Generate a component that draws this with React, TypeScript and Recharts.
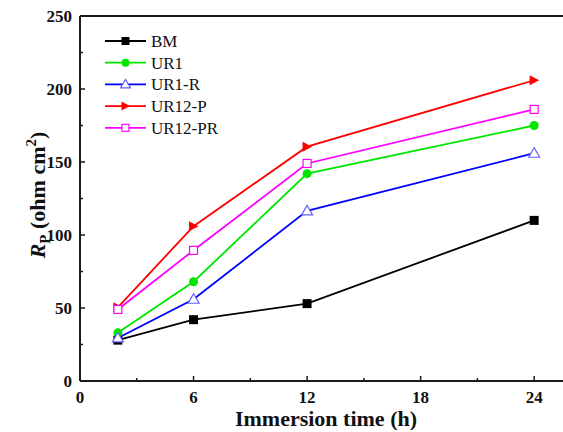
import { LineChart, Line, XAxis, YAxis, ReferenceLine } from "recharts";

// immersion times (h) and polarization resistance (ohm cm2)
const hours = [2, 6, 12, 24];
const bm = [28, 42, 53, 110];
const ur1 = [33, 68, 142, 175];
const ur1r = [29.5, 56, 116.5, 156];
const ur12p = [50.5, 106, 160.5, 206];
const ur12pr = [49, 89.5, 149, 186];

const xTicks = [0, 3, 6, 9, 12, 15, 18, 21, 24];
const yTicks = [0, 25, 50, 75, 100, 125, 150, 175, 200, 225, 250];

const FONT = "'Liberation Serif', 'Times New Roman', 'DejaVu Serif', serif";
const AXIS = "#1a1a1a";
const serifText = { fontFamily: FONT };

type Shape = "square" | "circle" | "triangle" | "right" | "openSquare";

const series: { name: string; values: number[]; color: string; shape: Shape }[] = [
  { name: "BM", values: bm, color: "#000000", shape: "square" },
  { name: "UR1", values: ur1, color: "#00e600", shape: "circle" },
  { name: "UR1-R", values: ur1r, color: "#0000ff", shape: "triangle" },
  { name: "UR12-P", values: ur12p, color: "#ff0000", shape: "right" },
  { name: "UR12-PR", values: ur12pr, color: "#ff00ff", shape: "openSquare" },
];

const data = hours.map((h, i) => {
  const row: Record<string, number> = { h };
  series.forEach((s) => (row[s.name] = s.values[i]));
  return row;
});

function Marker({ shape, cx, cy, color, size }: { shape: Shape; cx: number; cy: number; color: string; size: number }) {
  const r = size / 2;
  switch (shape) {
    case "square":
      return <rect x={cx - r} y={cy - r} width={size} height={size} fill={color} />;
    case "circle":
      return <circle cx={cx} cy={cy} r={r} fill={color} />;
    case "triangle":
      return (
        <polygon
          points={`${cx},${cy - r - 1} ${cx - r - 1},${cy + r - 0.5} ${cx + r + 1},${cy + r - 0.5}`}
          fill="#fff"
          stroke="#6262ff"
          strokeWidth={1.2}
        />
      );
    case "right":
      return <polygon points={`${cx - r},${cy - r - 0.5} ${cx + r + 0.5},${cy} ${cx - r},${cy + r + 0.5}`} fill={color} />;
    default:
      return <rect x={cx - r + 0.5} y={cy - r + 0.5} width={size - 1} height={size - 1} fill="#fff" stroke={color} strokeWidth={1.2} />;
  }
}

function XTick({ x, y, payload }: any) {
  const major = payload.value % 6 === 0;
  return (
    <g>
      <line x1={x} x2={x} y1={y} y2={y - (major ? 5 : 3)} stroke={AXIS} strokeWidth={1.5} />
      {major && (
        <text x={x} y={y + 22} textAnchor="middle" style={serifText} fontWeight="bold" fontSize={17} fill="#111">
          {payload.value}
        </text>
      )}
    </g>
  );
}

function YTick({ x, y, payload }: any) {
  const major = payload.value % 50 === 0;
  return (
    <g>
      <line x1={x} x2={x + (major ? 5 : 3)} y1={y} y2={y} stroke={AXIS} strokeWidth={1.5} />
      {major && (
        <text x={x - 8} y={y + 6} textAnchor="end" style={serifText} fontWeight="bold" fontSize={17} fill="#111">
          {payload.value}
        </text>
      )}
    </g>
  );
}

export default function App() {
  return (
    <div style={{ position: "absolute", left: 0, top: 0, width: 563, height: 432, overflow: "hidden", background: "#fff", fontFamily: FONT }}>
      <LineChart width={580} height={432} data={data} margin={{ top: 16, right: 8, bottom: 0, left: 0 }}>
        <XAxis
          dataKey="h"
          type="number"
          domain={[0, 26]}
          ticks={xTicks}
          interval={0}
          tickLine={false}
          tickSize={0}
          tickMargin={0}
          tick={(p: any) => <XTick {...p} />}
          axisLine={{ stroke: AXIS, strokeWidth: 2 }}
          height={51}
          allowDataOverflow
        />
        <YAxis
          type="number"
          domain={[0, 250]}
          ticks={yTicks}
          interval={0}
          tickLine={false}
          tickSize={0}
          tickMargin={0}
          tick={(p: any) => <YTick {...p} />}
          axisLine={{ stroke: AXIS, strokeWidth: 2 }}
          width={80}
        />
        <ReferenceLine y={250} stroke={AXIS} strokeWidth={2} />
        {series.map((s) => (
          <Line
            key={s.name}
            dataKey={s.name}
            stroke={s.color}
            strokeWidth={1.8}
            isAnimationActive={false}
            dot={(p: any) => (
              <Marker key={`${s.name}-${p.index}`} shape={s.shape} cx={p.cx} cy={p.cy} color={s.color} size={9} />
            )}
            activeDot={false}
          />
        ))}
      </LineChart>
      <svg width={563} height={432} style={{ position: "absolute", left: 0, top: 0, pointerEvents: "none" }}>
        {series.map((s, i) => {
          const y = 41 + i * 21.7;
          return (
            <g key={s.name}>
              <line x1={105} x2={146} y1={y} y2={y} stroke={s.color} strokeWidth={1.8} />
              <Marker shape={s.shape} cx={125.5} cy={y} color={s.color} size={8} />
              <text x={151} y={y + 6} style={serifText} fontSize={17} fill="#111">
                {s.name}
              </text>
            </g>
          );
        })}
        <text x={326} y={426} textAnchor="middle" style={serifText} fontWeight="bold" fontSize={22} fill="#111">
          Immersion time (h)
        </text>
        <text transform="translate(45,195) rotate(-90)" textAnchor="middle" style={serifText} fontWeight="bold" fontSize={22} fill="#111">
          <tspan fontStyle="italic">R</tspan>
          <tspan fontSize={15} dy={5}>P</tspan>
          <tspan dy={-5}> (ohm cm</tspan>
          <tspan fontSize={15} dy={-9}>2</tspan>
          <tspan dy={9}>)</tspan>
        </text>
      </svg>
    </div>
  );
}
